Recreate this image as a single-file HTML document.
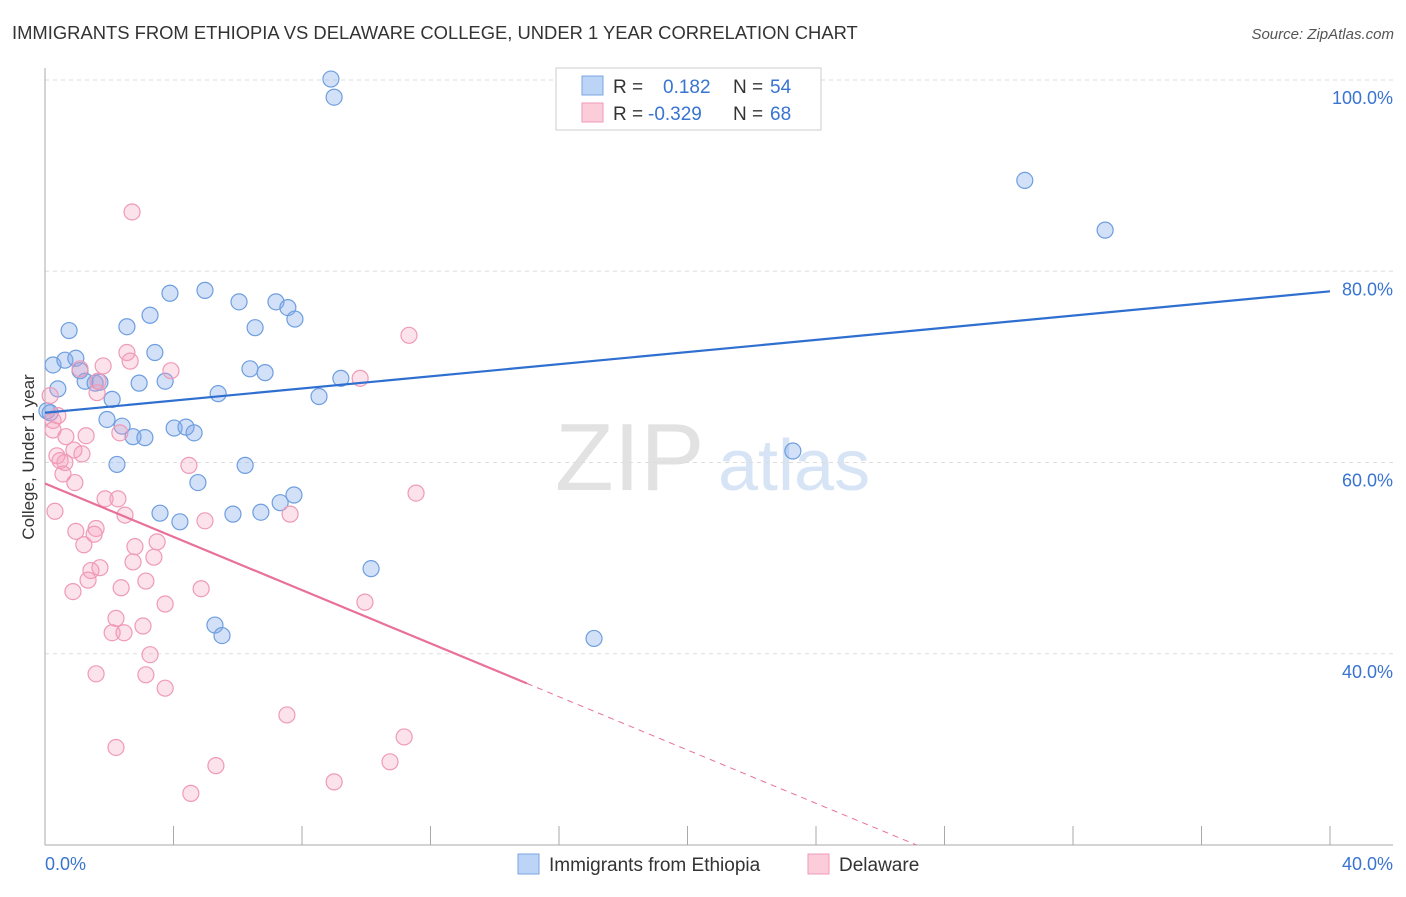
<!DOCTYPE html>
<html><head><meta charset="utf-8">
<style>
body{margin:0;background:#fff;font-family:"Liberation Sans",sans-serif;}
svg text{font-family:"Liberation Sans",sans-serif;}
</style></head>
<body>
<svg id="chart" width="1406" height="892" viewBox="0 0 1406 892" xmlns="http://www.w3.org/2000/svg">
<text x="12" y="39" font-size="18.4" fill="#333">IMMIGRANTS FROM ETHIOPIA VS DELAWARE COLLEGE, UNDER 1 YEAR CORRELATION CHART</text>
<text x="1394" y="39" font-size="15" fill="#555" font-style="italic" text-anchor="end">Source: ZipAtlas.com</text>
<text x="555" y="490" font-size="96" fill="#e2e2e2" font-family="Liberation Serif">ZIP</text>
<text x="718" y="490" font-size="72" fill="#d6e4f5">atlas</text>
<g id="grid"></g>
<g id="axes"></g>
<g id="marks"></g>
<text transform="translate(34,457) rotate(-90)" font-size="17" fill="#333" text-anchor="middle">College, Under 1 year</text>
<g>
<rect x="556" y="68" width="265" height="62" fill="#fff" stroke="#ccc"/>
<rect x="582" y="76" width="21" height="19" fill="#bcd4f5" stroke="#7aa6e2"/>
<rect x="582" y="103" width="21" height="19" fill="#fbcddb" stroke="#f09ab5"/>
<text x="613" y="93" font-size="19" fill="#333">R =</text>
<text x="663" y="93" font-size="19" fill="#3874d0">0.182</text>
<text x="733" y="93" font-size="19" fill="#333">N =</text>
<text x="770" y="93" font-size="19" fill="#3874d0">54</text>
<text x="613" y="120" font-size="19" fill="#333">R =</text>
<text x="648" y="120" font-size="19" fill="#3874d0">-0.329</text>
<text x="733" y="120" font-size="19" fill="#333">N =</text>
<text x="770" y="120" font-size="19" fill="#3874d0">68</text>
</g>
<g>
<rect x="518" y="854" width="21" height="20" fill="#bcd4f5" stroke="#7aa6e2"/>
<text x="549" y="871" font-size="19" fill="#333">Immigrants from Ethiopia</text>
<rect x="808" y="854" width="21" height="20" fill="#fbcddb" stroke="#f09ab5"/>
<text x="839" y="871" font-size="19" fill="#333">Delaware</text>
</g>
</svg>
<script>
const yTicks=[40,60,80,100];
const yTickLabels=["40.0%","60.0%","80.0%","100.0%"];
const xEndLabels=["0.0%","40.0%"];
const blueX=[8.9,9.0,30.5,33.0,0.25,0.75,0.62,0.96,0.40,1.09,1.25,1.56,1.71,2.09,1.93,2.24,2.40,2.55,2.74,2.93,3.11,3.27,3.42,3.74,3.58,3.89,4.02,4.20,4.39,4.64,4.76,4.98,5.29,5.39,5.51,5.85,6.04,6.23,6.38,6.54,6.72,6.85,7.19,7.32,7.56,7.75,7.78,8.53,9.21,10.15,17.09,23.28,0.06,0.16];
const blueY=[100.1,98.2,89.5,84.3,70.2,73.8,70.7,70.9,67.7,69.6,68.5,68.3,68.4,66.6,64.5,59.8,63.8,74.2,62.7,68.3,62.6,75.4,71.5,68.5,54.7,77.7,63.6,53.8,63.7,63.1,57.9,78.0,43.0,67.2,41.9,54.6,76.8,59.7,69.8,74.1,54.8,69.4,76.8,55.8,76.2,56.6,75.0,66.9,68.8,48.9,41.6,61.2,65.4,65.2];
const pinkX=[2.71,11.33,2.55,2.65,3.92,1.81,1.09,1.65,1.62,9.81,0.16,0.25,0.40,0.25,0.65,1.28,2.33,0.37,0.62,0.90,1.15,0.47,0.56,0.93,4.48,11.55,0.31,1.87,2.27,2.49,4.98,7.63,0.96,1.21,1.59,1.53,2.80,3.49,3.39,2.74,1.43,1.71,0.87,1.34,2.37,3.14,4.86,3.74,9.96,2.21,3.05,2.09,2.46,3.27,1.59,3.14,3.74,7.53,11.18,2.21,5.32,10.74,4.54,9.00];
const pinkY=[86.2,73.3,71.5,70.6,69.6,70.1,69.8,68.5,67.3,68.8,67.0,64.4,64.9,63.4,62.7,62.8,63.1,60.7,60.0,61.3,60.9,60.2,58.8,57.9,59.7,56.8,54.9,56.2,56.2,54.5,53.9,54.6,52.8,51.4,53.1,52.5,51.2,51.7,50.1,49.6,48.7,49.0,46.5,47.7,46.9,47.6,46.8,45.2,45.4,43.7,42.9,42.2,42.2,39.9,37.9,37.8,36.4,33.6,31.3,30.2,28.3,28.7,25.4,26.6];
const blueTrend=[65.2,77.9];
const pinkTrend=[57.8,36.9,15.0];

const NS="http://www.w3.org/2000/svg";
const X0=45,X1=1330,Y0=845,YTOP=80;
function sx(v){return X0+(v/40)*(X1-X0);}
function sy(v){return Y0-(v-20)/80*(Y0-YTOP);}
function mk(tag,attrs,parent){const e=document.createElementNS(NS,tag);for(const k in attrs)e.setAttribute(k,attrs[k]);parent.appendChild(e);return e;}
const grid=document.getElementById('grid'),axes=document.getElementById('axes'),marks=document.getElementById('marks');
yTicks.forEach((t,i)=>{
  const l=mk('line',{x1:45,x2:1393,y1:sy(t),y2:sy(t),stroke:'#ddd','stroke-dasharray':'4,4'},grid);
  
  
  const tx=mk('text',{x:1393,y:sy(t)+24,'font-size':18,fill:'#3874d0','text-anchor':'end'},axes);
  tx.textContent=yTickLabels[i];
  
  
});
mk('line',{x1:45,x2:45,y1:68,y2:845,stroke:'#aaa'},axes);
mk('line',{x1:45,x2:1393,y1:845,y2:845,stroke:'#aaa'},axes);
for(let i=0;i<=10;i++){
  const t=mk('line',{x1:sx(i*4),x2:sx(i*4),y1:826,y2:845,stroke:'#aaa'},axes);
  
  
}
const xl0=mk('text',{x:45,y:870,'font-size':18,fill:'#3874d0'},axes);xl0.textContent=xEndLabels[0];


const xl1=mk('text',{x:1393,y:870,'font-size':18,fill:'#3874d0','text-anchor':'end'},axes);xl1.textContent=xEndLabels[1];



blueX.forEach((v,i)=>{
  const c=mk('circle',{cx:sx(v),cy:sy(blueY[i]),r:8,fill:'rgba(130,170,235,0.35)',stroke:'#6e9edf','stroke-width':1.2},marks);
  
  
});
pinkX.forEach((v,i)=>{
  const c=mk('circle',{cx:sx(v),cy:sy(pinkY[i]),r:8,fill:'rgba(245,160,190,0.3)',stroke:'#ef9ab6','stroke-width':1.2},marks);
  
  
});
const bl=mk('line',{x1:sx(0),y1:sy(blueTrend[0]),x2:sx(40),y2:sy(blueTrend[1]),stroke:'#2f6fd0','stroke-width':2.2},marks);


const slope=(pinkTrend[1]-pinkTrend[0])/pinkTrend[2];
const pl=mk('line',{x1:sx(0),y1:sy(pinkTrend[0]),x2:sx(pinkTrend[2]),y2:sy(pinkTrend[1]),stroke:'#e8709a','stroke-width':2.2},marks);


const xEnd=(20-pinkTrend[0])/slope;
const pd=mk('line',{x1:sx(pinkTrend[2]),y1:sy(pinkTrend[1]),x2:sx(xEnd),y2:sy(20),stroke:'#e8709a','stroke-width':1,'stroke-dasharray':'6,5'},marks);


</script>
</body></html>
